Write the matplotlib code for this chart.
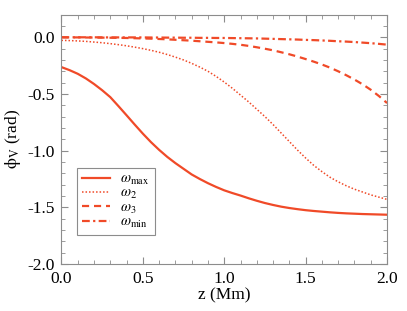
import matplotlib
matplotlib.use("Agg")
import matplotlib.pyplot as plt
from matplotlib.ticker import MultipleLocator

# serif, Times-like look
plt.rcParams['font.family'] = ['Liberation Serif', 'DejaVu Serif']
plt.rcParams['mathtext.fontset'] = 'stix'

# height z (Mm)
z = [0.00, 0.05, 0.10, 0.15, 0.20, 0.25, 0.30, 0.35, 0.40, 0.45, 0.50,
     0.55, 0.60, 0.65, 0.70, 0.75, 0.80, 0.85, 0.90, 0.95, 1.00,
     1.05, 1.10, 1.15, 1.20, 1.25, 1.30, 1.35, 1.40, 1.45, 1.50,
     1.55, 1.60, 1.65, 1.70, 1.75, 1.80, 1.85, 1.90, 1.95, 2.00]

# phase phi_V (rad) for each frequency
phi_max = [-0.263, -0.290, -0.322, -0.363, -0.412, -0.467, -0.528, -0.607, -0.688, -0.770, -0.850,
           -0.925, -0.993, -1.055, -1.110, -1.160, -1.210, -1.250, -1.287, -1.320, -1.350,
           -1.374, -1.396, -1.420, -1.442, -1.462, -1.479, -1.494, -1.506, -1.516, -1.525,
           -1.532, -1.538, -1.544, -1.549, -1.553, -1.556, -1.559, -1.561, -1.563, -1.565]
phi_2 = [-0.027, -0.029, -0.032, -0.036, -0.042, -0.048, -0.056, -0.065, -0.075, -0.087, -0.100,
         -0.115, -0.132, -0.152, -0.175, -0.200, -0.230, -0.263, -0.300, -0.345, -0.395,
         -0.450, -0.510, -0.570, -0.635, -0.700, -0.770, -0.845, -0.920, -0.995, -1.065,
         -1.130, -1.185, -1.235, -1.275, -1.310, -1.340, -1.365, -1.390, -1.410, -1.430]
phi_3 = [0.0, -0.001, -0.001, -0.002, -0.002, -0.003, -0.004, -0.005, -0.006, -0.008, -0.010,
         -0.012, -0.015, -0.018, -0.022, -0.026, -0.030, -0.035, -0.040, -0.045, -0.051,
         -0.058, -0.066, -0.076, -0.088, -0.101, -0.115, -0.132, -0.150, -0.170, -0.192,
         -0.215, -0.240, -0.268, -0.300, -0.335, -0.373, -0.415, -0.463, -0.518, -0.580]
phi_min = [0.0, 0.0, 0.0, 0.0, 0.0, -0.001, -0.001, -0.001, -0.001, -0.001, -0.001,
           -0.002, -0.002, -0.003, -0.003, -0.004, -0.004, -0.005, -0.005, -0.006, -0.006,
           -0.007, -0.008, -0.009, -0.010, -0.012, -0.014, -0.016, -0.018, -0.020, -0.023,
           -0.025, -0.028, -0.031, -0.035, -0.038, -0.042, -0.047, -0.052, -0.058, -0.065]

labels = [r'$\omega_{\rm max}$', r'$\omega_{2}$', r'$\omega_{3}$', r'$\omega_{\rm min}$']

col = '#f04a28'
grey = '#8c8c8c'

fig = plt.figure(figsize=(4.07, 3.11), dpi=100)
ax = fig.add_axes([0.151, 0.151, 0.800, 0.802])

ax.plot(z, phi_max, color=col, lw=1.6, ls='-', label=labels[0])
ax.plot(z, phi_2, color=col, lw=1.1, ls=(0, (1, 1.3)), label=labels[1])
ax.plot(z, phi_3, color=col, lw=1.6, ls=(0, (3.2, 2.2)), label=labels[2])
ax.plot(z, phi_min, color=col, lw=1.6, ls=(0, (3.5, 1.5, 1, 1.5)), label=labels[3])

ax.set_xlim(0, 2.0)
ax.set_ylim(-2.0, 0.2)
ax.xaxis.set_major_locator(MultipleLocator(0.5))
ax.xaxis.set_minor_locator(MultipleLocator(0.1))
ax.yaxis.set_major_locator(MultipleLocator(0.5))
ax.yaxis.set_minor_locator(MultipleLocator(0.1))
ax.xaxis.set_major_formatter(plt.FormatStrFormatter('%.1f'))
ax.yaxis.set_major_formatter(plt.FormatStrFormatter('%.1f'))

ax.tick_params(which='both', direction='in', top=True, right=True,
               color=grey, labelsize=12.5, pad=5)
ax.tick_params(which='major', length=5)
ax.tick_params(which='minor', length=3)
for s in ax.spines.values():
    s.set_color(grey)

ax.set_xlabel('z (Mm)', fontsize=12.5, labelpad=0)
ax.set_ylabel(r'$\mathrm{\phi}_{\rm V}$ (rad)', fontsize=12.5, labelpad=3)

leg = ax.legend(loc='lower left', bbox_to_anchor=(0.048, 0.116), borderaxespad=0,
                fontsize=10.5, handlelength=1.9, handletextpad=0.7,
                labelspacing=0.0, borderpad=0.35,
                fancybox=False, framealpha=1)
leg.get_frame().set_edgecolor(grey)
leg.get_frame().set_linewidth(0.8)

fig.savefig('out.png', dpi=100)
